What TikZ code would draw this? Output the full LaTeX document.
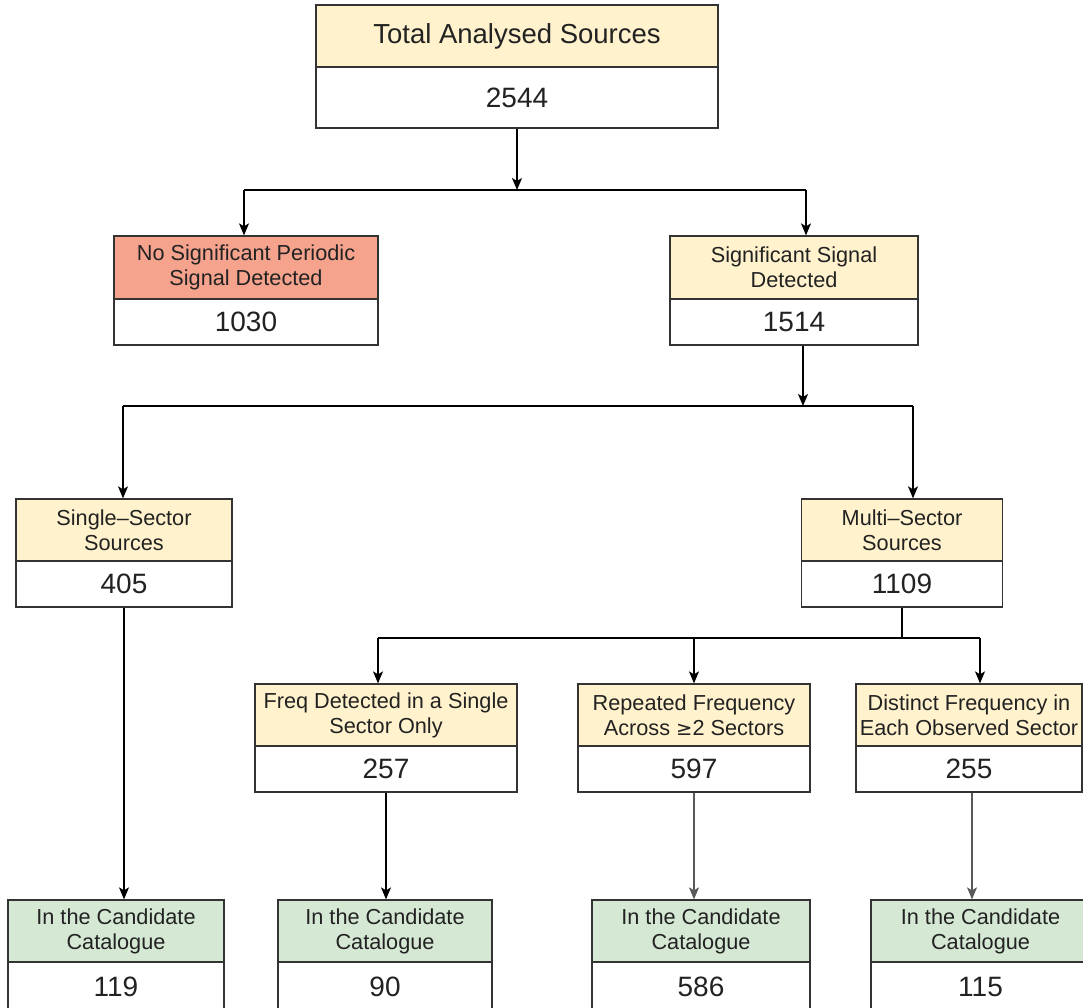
\documentclass[tikz,border=0pt]{standalone}
\usepackage{fontspec}
\setmainfont{Liberation Sans}
\usetikzlibrary{arrows.meta}
\definecolor{hyel}{HTML}{FFF2CC}
\definecolor{hred}{HTML}{F5A38D}
\definecolor{hgrn}{HTML}{D5E8D4}
\definecolor{edge}{HTML}{333333}
\definecolor{txt}{HTML}{222222}
\tikzset{
  box/.style={draw=edge, line width=1.3pt, rectangle, inner sep=0pt, align=center, text=txt},
  hdr/.style={box, font=\fontsize{21.7}{25}\selectfont},
  bighdr/.style={box, font=\fontsize{27.5}{30}\selectfont},
  val/.style={box, fill=white, font=\fontsize{28}{30}\selectfont},
  arr/.style={draw=black, line width=1.3pt, -{Stealth[length=12pt,width=10pt,inset=3pt]}},
  ln/.style={draw=black, line width=1.3pt},
  garr/.style={arr, draw=black!65},
}
\begin{document}
\begin{tikzpicture}[x=1pt,y=-1pt]
\useasboundingbox (0,0) rectangle (1083,1008);
\fill[white] (0,0) rectangle (1083,1008);
\begin{scope}
\clip (0,0) rectangle (1083,1008);
% top
\node[bighdr, fill=hyel, minimum width=402, minimum height=62] (htop) at (517,36) {Total Analysed Sources};
\node[val, minimum width=402, minimum height=61] (vtop) at (517,97.5) {2544};
% no sig
\node[hdr, fill=hred, minimum width=264, minimum height=63] (hnos) at (246,267.5) {No Significant Periodic\\Signal Detected};
\node[val, minimum width=264, minimum height=46] (vnos) at (246,322) {1030};
% sig
\node[hdr, fill=hyel, minimum width=248, minimum height=63] (hsig) at (794,267.5) {Significant Signal\\Detected};
\node[val, minimum width=248, minimum height=46] (vsig) at (794,322) {1514};
% single
\node[hdr, fill=hyel, minimum width=216, minimum height=62] (hsin) at (124,530) {Single--Sector\\Sources};
\node[val, minimum width=216, minimum height=46] (vsin) at (124,584) {405};
% multi
\node[hdr, fill=hyel, minimum width=201, minimum height=62] (hmul) at (902,530) {Multi--Sector\\Sources};
\node[val, minimum width=201, minimum height=46] (vmul) at (902,584) {1109};
% freq
\node[hdr, fill=hyel, minimum width=262, minimum height=62] (hfrq) at (386,715) {Freq Detected in a Single\\Sector Only};
\node[val, minimum width=262, minimum height=46] (vfrq) at (386,769) {257};
% repeated
\node[hdr, fill=hyel, minimum width=232, minimum height=62] (hrep) at (694,715) {Repeated Frequency\\Across \fontspec{DejaVu Sans}\fontsize{19.5}{25}\selectfont≥\fontspec{Liberation Sans}\fontsize{21.7}{25}\selectfont 2 Sectors};
\node[val, minimum width=232, minimum height=46] (vrep) at (694,769) {597};
% distinct
\node[hdr, fill=hyel, minimum width=226, minimum height=62] (hdis) at (969,715) {Distinct Frequency in\\Each Observed Sector};
\node[val, minimum width=226, minimum height=46] (vdis) at (969,769) {255};
% candidates
\node[hdr, fill=hgrn, minimum width=216, minimum height=62] (hc1) at (116,931) {In the Candidate\\Catalogue};
\node[val, minimum width=216, minimum height=50] (vc1) at (116,987) {119};
\node[hdr, fill=hgrn, minimum width=214, minimum height=62] (hc2) at (385,931) {In the Candidate\\Catalogue};
\node[val, minimum width=214, minimum height=50] (vc2) at (385,987) {90};
\node[hdr, fill=hgrn, minimum width=218, minimum height=62] (hc3) at (701,931) {In the Candidate\\Catalogue};
\node[val, minimum width=218, minimum height=50] (vc3) at (701,987) {586};
\node[hdr, fill=hgrn, minimum width=219, minimum height=62] (hc4) at (980.5,931) {In the Candidate\\Catalogue};
\node[val, minimum width=219, minimum height=50] (vc4) at (980.5,987) {115};
\end{scope}
% junction coordinates
\coordinate (j1) at (517,190);
\coordinate (j1l) at (244,190);
\coordinate (j1r) at (806,190);
\coordinate (j2) at (803,406);
\coordinate (j2l) at (123,406);
\coordinate (j2r) at (913,406);
\coordinate (j3) at (902,638);
\coordinate (j3l) at (378,638);
\coordinate (j3m) at (694,638);
\coordinate (j3r) at (980,638);
% connectors level 1
\draw[arr] (vtop.south) -- (j1);
\draw[ln] (j1l) -- (j1r);
\draw[arr] (j1l) -- (hnos.north -| j1l);
\draw[arr] (j1r) -- (hsig.north -| j1r);
% level 2
\draw[arr] (vsig.south -| j2) -- (j2);
\draw[ln] (j2l) -- (j2r);
\draw[arr] (j2l) -- (hsin.north -| j2l);
\draw[arr] (j2r) -- (hmul.north -| j2r);
% level 3
\draw[ln] (vmul.south) -- (j3);
\draw[ln] (j3l) -- (j3r);
\draw[arr] (j3l) -- (hfrq.north -| j3l);
\draw[arr] (j3m) -- (hrep.north -| j3m);
\draw[arr] (j3r) -- (hdis.north -| j3r);
% to candidates
\draw[arr] (vsin.south) -- (hc1.north -| vsin.south);
\draw[arr] (vfrq.south) -- (hc2.north -| vfrq.south);
\draw[garr] (vrep.south) -- (hc3.north -| vrep.south);
\coordinate (c4x) at (972,0);
\draw[garr] (vdis.south -| c4x) -- (hc4.north -| c4x);
\end{tikzpicture}
\end{document}
